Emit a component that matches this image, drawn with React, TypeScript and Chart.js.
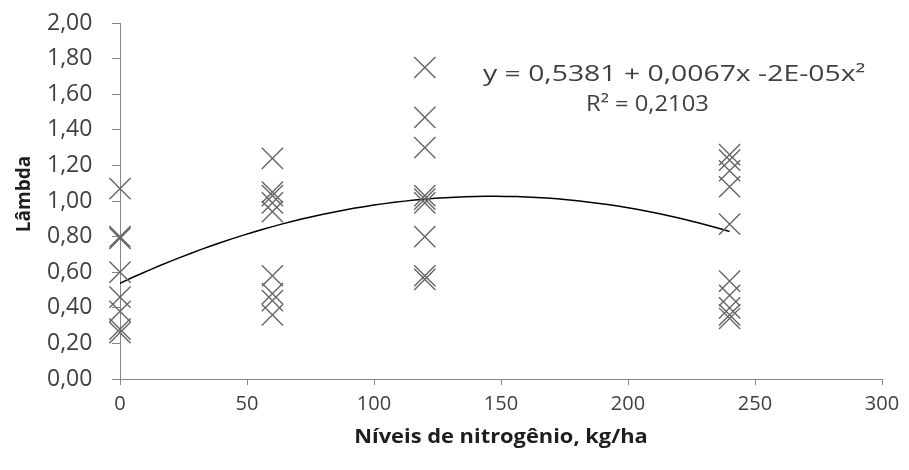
import React, { useEffect, useRef } from "react";
import { Chart, registerables } from "chart.js";

Chart.register(...registerables);

// Data
const N0_VALUES = [1.07, 0.8, 0.79, 0.6, 0.46, 0.38, 0.28, 0.26];
const N60_VALUES = [1.24, 1.05, 1.03, 0.99, 0.94, 0.58, 0.48, 0.44, 0.36];
const N120_VALUES = [1.75, 1.47, 1.3, 1.03, 1.01, 0.99, 0.8, 0.58, 0.56];
const N240_VALUES = [1.26, 1.23, 1.17, 1.08, 0.87, 0.55, 0.47, 0.4, 0.36, 0.34];
const N_LEVELS = [0, 60, 120, 240];

// Polynomial trendline coefficients (a + b x + c x^2)
const TREND_COEFS = [0.5381, 0.00666, -0.0000227];
const TREND_X_RANGE = [0, 240];

const EQUATION_LINE = "y = 0,5381 + 0,0067x -2E-05x²";
const R2_LINE = "R² = 0,2103";
const X_TITLE = "Níveis de nitrogênio, kg/ha";
const Y_TITLE = "Lâmbda";

const FONT = "'Open Sans', sans-serif";

export default function App() {
  const ref = useRef<HTMLCanvasElement | null>(null);

  useEffect(() => {
    const canvas = ref.current;
    if (!canvas) return;

    const groups = [N0_VALUES, N60_VALUES, N120_VALUES, N240_VALUES];
    const scatter: { x: number; y: number }[] = [];
    groups.forEach((vals, i) => {
      vals.forEach((v) => scatter.push({ x: N_LEVELS[i], y: v }));
    });

    const trend: { x: number; y: number }[] = [];
    for (let x = TREND_X_RANGE[0]; x <= TREND_X_RANGE[1]; x += 4) {
      trend.push({ x, y: TREND_COEFS[0] + TREND_COEFS[1] * x + TREND_COEFS[2] * x * x });
    }

    const drawStretched = (
      ctx: CanvasRenderingContext2D,
      text: string,
      x: number,
      y: number,
      sx: number,
      align: CanvasTextAlign
    ) => {
      ctx.save();
      ctx.translate(x, y);
      ctx.scale(sx, 1);
      ctx.textAlign = align;
      ctx.fillText(text, 0, 0);
      ctx.restore();
    };

    const textPlugin = {
      id: "texts",
      afterDraw(chart: any) {
        const ctx = chart.ctx as CanvasRenderingContext2D;
        const area = chart.chartArea;
        ctx.save();
        ctx.fillStyle = "#404040";
        ctx.textBaseline = "middle";
        ctx.font = `21px ${FONT}`;
        drawStretched(ctx, EQUATION_LINE, 483, 75, 1.35, "left");
        drawStretched(ctx, R2_LINE, 586, 105, 1.13, "left");

        ctx.font = `bold 19px ${FONT}`;
        ctx.fillStyle = "#1e1e1e";
        drawStretched(ctx, X_TITLE, (area.left + area.right) / 2, 438, 1.15, "center");

        ctx.translate(25, (area.top + area.bottom) / 2 - 7);
        ctx.rotate(-Math.PI / 2);
        ctx.textAlign = "center";
        ctx.fillText(Y_TITLE, 0, 0);
        ctx.restore();
      },
    };

    const chart = new Chart(canvas, {
      type: "scatter",
      data: {
        datasets: [
          {
            label: "Lâmbda",
            data: scatter,
            pointStyle: "crossRot",
            pointRadius: 15,
            pointBorderWidth: 1.4,
            borderColor: "#666666",
            backgroundColor: "#666666",
            showLine: false,
            clip: false,
          },
          {
            label: "Tendência",
            data: trend,
            showLine: true,
            pointRadius: 0,
            borderColor: "#000000",
            borderWidth: 1.5,
            tension: 0,
          },
        ],
      },
      options: {
        responsive: false,
        animation: false,
        events: [],
        layout: { padding: { top: 23, right: 27, left: 47, bottom: 0 } },
        plugins: {
          legend: { display: false },
          tooltip: { enabled: false },
        },
        scales: {
          x: {
            type: "linear",
            min: 0,
            max: 300,
            afterFit(scale: any) {
              scale.height = 91;
            },
            ticks: {
              stepSize: 50,
              color: "#404040",
              font: { family: FONT, size: 20 },
              padding: 7,
            },
            grid: { drawOnChartArea: false, drawTicks: true, tickLength: 6, color: "#868686" },
            border: { color: "#868686", width: 1 },
          },
          y: {
            type: "linear",
            min: 0,
            max: 2,
            afterFit(scale: any) {
              scale.width = 73;
            },
            ticks: {
              stepSize: 0.2,
              color: "#404040",
              font: { family: FONT, size: 23 },
              padding: 4,
              crossAlign: "far",
              callback: (v: any) => Number(v).toFixed(2).replace(".", ","),
            },
            grid: { drawOnChartArea: false, drawTicks: true, tickLength: 8, color: "#868686" },
            border: { color: "#868686", width: 1 },
          },
        },
      },
      plugins: [textPlugin],
    });

    return () => chart.destroy();
  }, []);

  return (
    <div style={{ position: "absolute", left: 0, top: 0, width: 909, height: 470, background: "#fff" }}>
      <canvas ref={ref} width={909} height={470} />
    </div>
  );
}
